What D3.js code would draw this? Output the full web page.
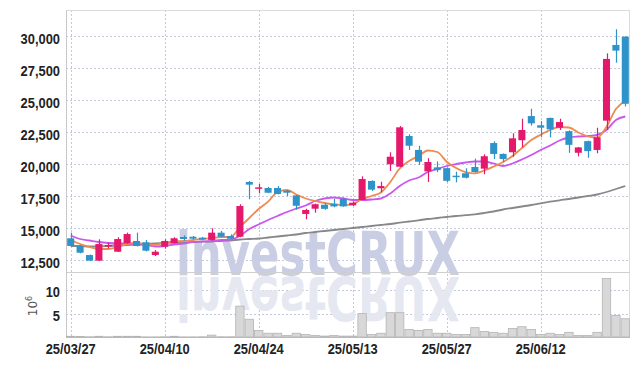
<!DOCTYPE html>
<html>
<head>
<meta charset="utf-8">
<script src="https://cdn.jsdelivr.net/npm/d3@7"></script>
<style>
  body { margin: 0; background: #fff; }
  svg { display: block; }
  .lbl { font-family: "Liberation Sans", Arial, sans-serif; font-weight: bold; font-size: 15px; fill: #222; }
</style>
</head>
<body>
<svg id="chart" width="639" height="366"></svg>
<script>
const dates = ["25/03/27","25/03/28","25/03/31","25/04/01","25/04/02","25/04/03","25/04/04","25/04/07","25/04/08","25/04/09",
  "25/04/10","25/04/11","25/04/14","25/04/15","25/04/16","25/04/17","25/04/18","25/04/21","25/04/22","25/04/23",
  "25/04/24","25/04/25","25/04/28","25/04/29","25/04/30","25/05/02","25/05/07","25/05/08","25/05/09","25/05/12",
  "25/05/13","25/05/14","25/05/15","25/05/16","25/05/19","25/05/20","25/05/21","25/05/22","25/05/23","25/05/26",
  "25/05/27","25/05/28","25/05/29","25/05/30","25/06/02","25/06/04","25/06/05","25/06/09","25/06/10","25/06/11",
  "25/06/12","25/06/13","25/06/16","25/06/17","25/06/18","25/06/19","25/06/20","25/06/23","25/06/24","25/06/25"];

const opens  = [14220,13620,12910,12470,13600,13170,13830,14010,13910,12910,13560,13830,14320,14340,14270,14090,14660,14400,14340,18620,
  18130,18150,18150,17940,17570,16120,16530,16840,16910,17310,16800,17210,18700,18130,20000,19810,22210,21120,19450,19760,
  19700,19110,19300,19790,19660,21660,20810,20940,21880,23770,23050,23620,22860,22590,20900,21810,21120,23410,29320,29970];
const highs  = [14660,13650,12950,14140,13880,14300,14660,14660,14090,13300,14140,14300,14450,14400,14330,15000,14800,14530,16880,18700,
  18460,18240,18300,17990,17600,16530,16930,16970,17310,17410,17110,19060,18750,18640,20940,22990,22340,21450,20470,20230,
  19750,19420,19690,20440,20780,21800,20850,22420,23560,24340,23380,23650,23560,22650,21350,21850,22860,28670,30550,30000];
const lows   = [13600,13050,12440,12440,13420,13150,13800,13580,13200,12830,13410,13800,14030,14150,14100,14050,14300,14150,14300,17270,
  17730,17750,17650,17520,16450,15700,16220,16450,16640,16680,16740,17200,17910,17810,19480,19780,21120,19950,18620,19390,
  18610,18590,18900,19350,19220,20410,20180,20590,21330,23020,22110,22110,22680,20900,20620,20510,20860,22680,27940,24520];
const closes = [13620,13090,12470,13770,13700,14160,14550,13620,13250,13170,14010,14220,14160,14190,14130,14660,14340,14190,16740,18410,
  18200,17780,17680,17780,16760,16430,16880,16520,16710,16710,17000,18850,18020,18300,20590,22890,21450,20200,20180,19550,
  18710,19000,18950,19400,20630,20810,20410,22030,22680,23200,22860,22730,23300,21520,21320,21030,22110,28230,28880,24730];
// volume, millions of shares
const volumes = [0.15,0.1,0.05,0.15,0.05,0.15,0.15,0.15,0.03,0.03,0.05,0.15,0.03,0.03,0.05,0.4,0.05,0.05,6.6,3.8,
  1.4,0.8,0.8,0.35,0.8,0.55,0.35,0.2,0.35,0.2,0.2,5.0,0.55,0.8,5.2,5.2,1.6,1.4,1.6,0.8,
  0.8,0.55,0.55,2.0,1.2,1.0,0.8,1.8,2.2,1.6,0.55,0.8,0.55,1.0,0.35,0.35,1.0,12.5,4.6,3.9];

// moving averages
const maShort = [14086,13773,13539,13383,13383,13539,13773,13852,13773,13695,13891,13969,14008,14086,14164,14242,14320,14320,15102,15805,
  16508,17078,17836,17992,17641,17328,17133,16977,16875,16820,16898,17289,17523,17797,18617,19672,20258,20648,21078,20961,
  20203,19711,19398,19297,19516,19828,20180,20648,21273,21898,22313,22680,22914,22875,22484,22188,22078,22938,24320,24945];
const maMid = [14438,14164,14047,13930,13852,13813,13813,13734,13695,13578,13617,13734,13813,13930,13969,14008,14086,14125,14398,14945,
  15297,15648,15961,16273,16547,16781,17133,17328,17406,17328,17211,17211,17250,17328,17719,18305,18734,18969,19398,19633,
  19867,20023,20141,20219,20219,20063,19867,20063,20375,20727,21117,21469,21859,22094,22172,22211,22289,22680,23461,23734];
const maLong = [13617,13617,13578,13578,13617,13656,13695,13734,13773,13813,13852,13891,13906,13930,13953,13969,14008,14047,14125,14164,
  14203,14281,14359,14438,14516,14633,14711,14789,14867,14945,15023,15102,15180,15258,15336,15438,15531,15625,15727,15805,
  15883,15961,16023,16094,16195,16313,16469,16586,16703,16820,16953,17078,17188,17289,17406,17523,17641,17836,18070,18305];

const priceTicks = [12500,15000,17500,20000,22500,25000,27500,30000];
const volumeTicks = [5,10];
const dateTicks = ["25/03/27","25/04/10","25/04/24","25/05/13","25/05/27","25/06/12"];

const svg = d3.select("#chart");
const plotLeft = 66, plotRight = 630, plotTop = 10, split = 272, plotBottom = 337;
const upColor = "#e5196b", downColor = "#2e93c9", gridColor = "#c3c8dc";

const x = d3.scaleBand().domain(dates).range([plotLeft, plotRight]).paddingInner(0.25).paddingOuter(0.125);
const xv = d3.scaleBand().domain(dates).range([plotLeft, plotRight]).padding(0);
const cx = d => xv(d) + xv.bandwidth() / 2;

const y = d3.scaleLinear().domain([11586, 32055]).range([split, plotTop]);
const yv = d3.scaleLinear().domain([0, 13.9]).range([plotBottom, split]);

svg.append("rect").attr("width", 639).attr("height", 366).attr("fill", "#fff");

// grid
const grid = svg.append("g").attr("stroke", gridColor).attr("stroke-dasharray", "2,2").attr("stroke-width", 1);
grid.selectAll(".hp").data(priceTicks).enter().append("line")
  .attr("x1", plotLeft).attr("x2", plotRight)
  .attr("y1", d => Math.round(y(d)) + 0.5).attr("y2", d => Math.round(y(d)) + 0.5);
grid.selectAll(".hv").data(volumeTicks).enter().append("line")
  .attr("x1", plotLeft).attr("x2", plotRight)
  .attr("y1", d => Math.round(yv(d)) + 0.5).attr("y2", d => Math.round(yv(d)) + 0.5);
grid.selectAll(".vx").data(dateTicks).enter().append("line")
  .attr("x1", d => Math.round(cx(d)) + 0.5).attr("x2", d => Math.round(cx(d)) + 0.5)
  .attr("y1", plotTop).attr("y2", plotBottom);

// watermark + reflection
const wm = svg.append("g").attr("font-family", "'DejaVu Sans Condensed', 'DejaVu Sans', sans-serif")
  .attr("font-weight", "bold").attr("font-size", 60);
wm.append("text").attr("x", 176).attr("y", 275).attr("textLength", 284).attr("lengthAdjust", "spacingAndGlyphs")
  .attr("fill", "#c9cee4").text("investCRUX");
wm.append("text").attr("x", 176).attr("y", 275).attr("textLength", 284).attr("lengthAdjust", "spacingAndGlyphs")
  .attr("transform", "translate(0,552) scale(1,-1)")
  .attr("fill", "#e5e7f1").text("investCRUX");

// frame
svg.append("rect").attr("x", plotLeft + 0.5).attr("y", plotTop + 0.5).attr("width", plotRight - plotLeft - 1).attr("height", plotBottom - plotTop)
  .attr("fill", "none").attr("stroke", "#dcdcdc");
svg.append("line").attr("x1", plotLeft).attr("x2", plotRight).attr("y1", split + 0.5).attr("y2", split + 0.5).attr("stroke", "#cfcfcf");
svg.append("line").attr("x1", plotLeft + 0.5).attr("x2", plotLeft + 0.5).attr("y1", plotTop).attr("y2", plotBottom).attr("stroke", "#c8c8c8");
svg.append("line").attr("x1", plotLeft).attr("x2", plotRight).attr("y1", plotBottom + 0.5).attr("y2", plotBottom + 0.5).attr("stroke", "#bdbdbd");

// volume bars
svg.append("g").selectAll("rect").data(dates).enter().append("rect")
  .attr("x", d => xv(d) + 0.5)
  .attr("y", (d, i) => yv(volumes[i]))
  .attr("width", xv.bandwidth() - 1)
  .attr("height", (d, i) => plotBottom - yv(volumes[i]))
  .attr("fill", "#d8d8d8").attr("stroke", "#b4b4b4").attr("stroke-width", 0.8);

// moving average lines
const maLine = arr => d3.line().x(d => cx(d)).y((d, i) => y(arr[i])).curve(d3.curveMonotoneX)(dates);
[[maLong, "#888888"], [maMid, "#cc55ee"], [maShort, "#ef8a50"]].forEach(([arr, c]) => {
  svg.append("path").attr("d", maLine(arr)).attr("fill", "none").attr("stroke", c).attr("stroke-width", 1.8);
});

// candles
const candles = svg.append("g").selectAll("g").data(dates).enter().append("g")
  .attr("fill", (d, i) => closes[i] >= opens[i] ? upColor : downColor)
  .attr("stroke", (d, i) => closes[i] >= opens[i] ? upColor : downColor);
candles.append("line")
  .attr("x1", d => Math.round(cx(d)) + 0.5).attr("x2", d => Math.round(cx(d)) + 0.5)
  .attr("y1", (d, i) => y(highs[i])).attr("y2", (d, i) => y(lows[i]))
  .attr("stroke-width", 1.2);
candles.append("rect")
  .attr("x", d => x(d))
  .attr("width", x.bandwidth())
  .attr("y", (d, i) => y(Math.max(opens[i], closes[i])))
  .attr("height", (d, i) => Math.max(1.5, Math.abs(y(opens[i]) - y(closes[i]))))
  .attr("stroke", "none");

// axes (labels squeezed horizontally to mimic the narrow face)
const squeeze = "scale(0.86,1)";
const yAxis = svg.append("g").attr("transform", `translate(${plotLeft},0)`)
  .call(d3.axisLeft(y).tickValues(priceTicks).tickSize(0).tickPadding(7).tickFormat(d3.format(",")));
yAxis.select(".domain").remove();
yAxis.selectAll("text").attr("class", "lbl").attr("dy", "0.5em").attr("fill", null).attr("transform", squeeze);

const vAxis = svg.append("g").attr("transform", `translate(${plotLeft},0)`)
  .call(d3.axisLeft(yv).tickValues(volumeTicks).tickSize(0).tickPadding(7));
vAxis.select(".domain").remove();
vAxis.selectAll("text").attr("class", "lbl").attr("dy", "0.45em").attr("fill", null).attr("transform", squeeze);

const xAxis = svg.append("g").attr("transform", `translate(0,${plotBottom})`)
  .call(d3.axisBottom(xv).tickValues(dateTicks).tickSize(0).tickPadding(6));
xAxis.select(".domain").remove();
xAxis.selectAll("text").attr("class", "lbl").attr("fill", null).attr("transform", squeeze);

const unit = svg.append("text").attr("transform", "translate(37,306) rotate(-90)")
  .attr("text-anchor", "middle").attr("font-family", "'DejaVu Sans', sans-serif")
  .attr("font-size", 12).attr("fill", "#555");
unit.append("tspan").text("10");
unit.append("tspan").attr("dy", -5).attr("font-size", 8).text("6");
</script>
</body>
</html>
